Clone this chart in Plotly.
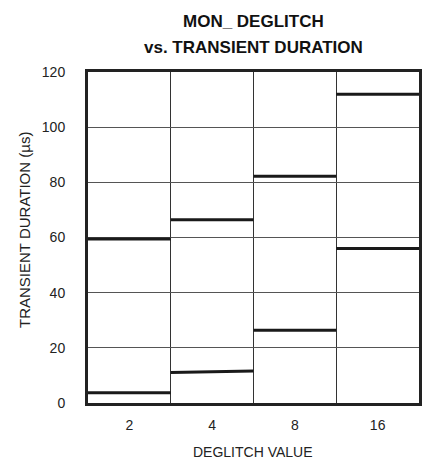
import plotly.graph_objects as go

categories = ["2", "4", "8", "16"]
lower_start = [3.7, 11.1, 26.4, 56.0]
lower_end = [3.7, 11.6, 26.4, 56.0]
upper = [59.5, 66.4, 82.2, 111.9]
y_ticks = [0, 20, 40, 60, 80, 100, 120]

FONT = "Liberation Sans, Arial, sans-serif"

fig = go.Figure()
for i, c in enumerate(categories):
    x0, x1 = i + 0.5, i + 1.5
    fig.add_trace(go.Scatter(x=[x0, x1], y=[lower_start[i], lower_end[i]], mode="lines",
                             line=dict(color="#1a1a1a", width=3), showlegend=False, hoverinfo="skip"))
    fig.add_trace(go.Scatter(x=[x0, x1], y=[upper[i], upper[i]], mode="lines",
                             line=dict(color="#1a1a1a", width=3), showlegend=False, hoverinfo="skip"))

W, H = 422, 464
# target pixels of plot area
SX0, SX1, SY0, SY1 = 88, 419, 72, 403
L, R, T, B = SX0, W - SX1, SY0, H - SY1
PW = SX1 - SX0
PH = SY1 - SY0


def px(sx):
    return (sx - SX0) / PW


def py(sy):
    return (SY1 - sy) / PH


fig.update_layout(
    width=W, height=H,
    margin=dict(l=L, r=R, t=T, b=B),
    paper_bgcolor="white", plot_bgcolor="white",
    font=dict(family=FONT, color="#222", size=14),
    xaxis=dict(range=[0.5, 4.5], tickmode="array", tickvals=[1, 2, 3, 4], ticktext=categories,
               showgrid=False, zeroline=False, showline=True, linewidth=3, linecolor="#222",
               mirror=True, ticks="outside", ticklen=7, tickcolor="white", automargin=False,
               minor=dict(tickmode="array", tickvals=[1.5, 2.5, 3.5], showgrid=True,
                          gridcolor="#333", gridwidth=1),
               tickfont=dict(size=14)),
    yaxis=dict(range=[0, 120], tickmode="array", tickvals=y_ticks,
               showgrid=True, gridcolor="#555", gridwidth=1, zeroline=False,
               showline=True, linewidth=3, linecolor="#222", mirror=True,
               ticks="outside", ticklen=17, tickcolor="white", automargin=False,
               tickfont=dict(size=14)),
    annotations=[
        dict(text="<b>MON_ DEGLITCH</b>", xref="paper", yref="paper",
             x=px(253), y=py(21), xanchor="center", yanchor="middle",
             showarrow=False, font=dict(size=17, color="#111")),
        dict(text="<b>vs. TRANSIENT DURATION</b>", xref="paper", yref="paper",
             x=px(253), y=py(47), xanchor="center", yanchor="middle",
             showarrow=False, font=dict(size=17, color="#111")),
        dict(text="DEGLITCH VALUE", xref="paper", yref="paper",
             x=px(253), y=py(452), xanchor="center", yanchor="middle",
             showarrow=False, font=dict(size=14)),
        dict(text="TRANSIENT DURATION (µs)", xref="paper", yref="paper", textangle=-90,
             x=px(24), y=py(230), xanchor="center", yanchor="middle",
             showarrow=False, font=dict(size=15)),
    ],
)

fig.write_html(
    "out.html",
    config={"displayModeBar": False},
    post_script=(
        "var s=document.createElement('style');"
        "s.textContent='html,body{margin:0;padding:0;overflow:hidden;}';"
        "document.head.appendChild(s);"
    ),
)
